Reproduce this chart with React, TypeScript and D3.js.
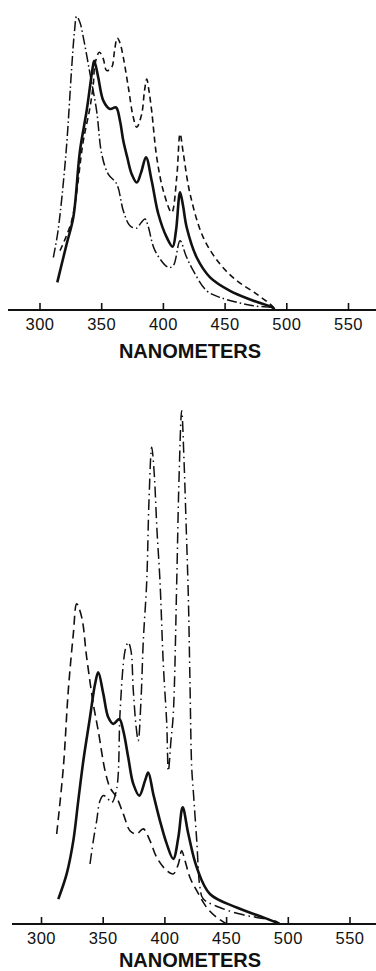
import { useEffect, useRef } from "react";
import * as d3 from "d3";

// wavelengths (nm) and relative intensity
const tickValues = [300, 350, 400, 450, 500, 550];

// upper panel
const topSolidNm = [314, 321.6, 327, 332.4, 337.8, 343.2, 344, 347.2, 351.3, 356.7, 361.6, 364.8, 367.5, 370.7, 374.3, 378.4, 381.9, 385.9, 390.5, 395.9, 402.7, 407.5, 410.2, 413.5, 415.9, 418.9, 427, 437.8, 454, 472.9, 489, 490];
const topSolidVal = [9.2, 22, 30.9, 53.1, 66.4, 82, 83.1, 77.5, 69.8, 67, 67.5, 63.1, 56.4, 50.9, 45.3, 42.5, 45.8, 50.9, 43.1, 32, 24.2, 21.1, 26.4, 39.2, 34.8, 27.5, 17.5, 10.9, 6.4, 3.1, 0.7, 0];

const topDashNm = [316.2, 325.7, 335.1, 340.5, 343.2, 344.6, 348.1, 351.3, 354, 358.1, 360.4, 362.6, 364.8, 367.5, 371.6, 375.6, 378.4, 382.4, 384.7, 386.5, 388.3, 390.5, 394.6, 399.9, 406.7, 410.8, 413.5, 416.2, 421.6, 432.3, 445.9, 459.4, 475.6, 489.1, 490];
const topDashVal = [19.8, 29.8, 56.4, 67.5, 75.3, 82.1, 85.9, 83.7, 79.8, 80.9, 86.4, 90.7, 89.1, 84.2, 74.2, 64.2, 60.9, 65.3, 73.1, 77, 73.1, 66.4, 50.9, 39.8, 32.5, 44.2, 58.7, 52, 38.7, 24.2, 15.3, 9.8, 5.3, 0.9, 0];

const topDashDotNm = [310.8, 314.6, 321, 325.7, 328, 329.7, 332.4, 335.1, 340.5, 345.9, 350, 355.3, 362.2, 367.5, 372.9, 378.4, 381.9, 385.1, 387.5, 393.2, 404, 408, 413.5, 418.3, 424.2, 435.1, 445.9, 472.9, 489, 490];
const topDashDotVal = [17.5, 26.4, 52, 80.9, 93.1, 97.9, 95.8, 90.9, 78.8, 66.4, 52, 45.3, 42, 33.1, 28.1, 27.3, 29.1, 30.3, 28.1, 19.8, 14.2, 14.8, 23.1, 18.1, 13.1, 6.4, 4.2, 1.4, 0.7, 0];

// lower panel
const botSolidNm = [313.6, 320.4, 325.8, 329.8, 333.9, 339.3, 343.4, 346, 350.1, 354.1, 358.2, 363, 366.3, 370.3, 374.4, 379.3, 383.9, 386.5, 390.6, 396, 401.5, 406.8, 410.9, 414.4, 419, 425.8, 436.5, 458.2, 479.7, 493];
const botSolidVal = [8.3, 16.7, 27.8, 41.1, 54.4, 68.9, 80, 83.9, 76.7, 68.9, 66.7, 68.3, 64.4, 55.5, 46.7, 42.8, 47.8, 50.5, 43.3, 34.4, 26.7, 21.7, 28.9, 38.9, 30, 18.9, 10, 5.5, 2.2, 0];

const botDashNm = [312.3, 317.7, 321.7, 325.8, 328.5, 332.6, 336.6, 342, 346, 351.5, 355.5, 360.9, 366.3, 371.7, 377.1, 382.5, 387.9, 393.4, 401.5, 406.8, 410.9, 413.6, 416.3, 420.3, 425.8, 433.9, 442, 450];
const botDashVal = [30, 52.2, 77.8, 96.7, 106.7, 102.2, 88.9, 73.3, 64.4, 51.1, 45.5, 42.2, 36.7, 31.1, 30, 31.7, 27.8, 22.2, 17.8, 16.7, 20, 24.4, 21.1, 15.5, 11.1, 5.5, 2.2, 0];

const botDashDotNm = [339.3, 342, 344.7, 347.4, 350.2, 353.1, 356.9, 360.9, 363.6, 366.3, 368.1, 370.3, 372.5, 374.4, 376.6, 378.4, 380.6, 382.5, 385.3, 387.1, 389.3, 391.2, 393.6, 396, 398.7, 401.5, 402.8, 404.9, 406.8, 409.6, 411.4, 413.6, 415.5, 417.1, 419, 420.3, 421.7, 423, 425.8, 428.4, 431, 444.6, 460.9, 474.4, 490.6, 493];
const botDashDotVal = [20, 27.8, 34.4, 41.1, 42.8, 42.1, 40.5, 45, 70, 86.7, 91.8, 93.9, 91.1, 77.8, 66.1, 61.1, 74.4, 94.4, 114.4, 141.1, 158.9, 151.1, 131.1, 114.4, 86.7, 66.7, 51, 61.1, 70, 114.4, 147.8, 171.1, 154.4, 134.4, 108.9, 81.1, 52.4, 44.4, 27.8, 12.2, 8.4, 5.5, 3.3, 2.2, 0.8, 0];

const W = 376;
const H = 971;

export default function App() {
  const ref = useRef<SVGSVGElement | null>(null);

  useEffect(() => {
    const svg = d3.select(ref.current);
    svg.selectAll("*").remove();

    const panels = [
      {
        x0: 40, x1: 348.5, base: 310, axisStart: 8, labelY: 330, titleY: 358,
        series: [
          { nm: topDashDotNm, val: topDashDotVal, dash: "10,3,1.5,3", w: 1.5 },
          { nm: topDashNm, val: topDashVal, dash: "6,4", w: 1.6 },
          { nm: topSolidNm, val: topSolidVal, dash: null, w: 2.6 },
        ],
      },
      {
        x0: 41.5, x1: 350, base: 924, axisStart: 12, labelY: 944, titleY: 967,
        series: [
          { nm: botDashDotNm, val: botDashDotVal, dash: "11,4,1.5,4", w: 1.5 },
          { nm: botDashNm, val: botDashVal, dash: "9,5", w: 1.6 },
          { nm: botSolidNm, val: botSolidVal, dash: null, w: 2.6 },
        ],
      },
    ];

    panels.forEach(p => {
      const x = d3.scaleLinear().domain([300, 550]).range([p.x0, p.x1]);
      const y = d3.scaleLinear().domain([0, 100]).range([p.base, p.base - 300]);
      const g = svg.append("g");

      // baseline + ticks pointing up
      g.append("line")
        .attr("x1", p.axisStart).attr("x2", W)
        .attr("y1", p.base).attr("y2", p.base)
        .attr("stroke", "#111").attr("stroke-width", 1.8);

      g.selectAll("line.tick")
        .data(tickValues)
        .enter()
        .append("line")
        .attr("class", "tick")
        .attr("x1", d => x(d)).attr("x2", d => x(d))
        .attr("y1", p.base).attr("y2", p.base - 7)
        .attr("stroke", "#111").attr("stroke-width", 1.6);

      g.selectAll("text.tl")
        .data(tickValues)
        .enter()
        .append("text")
        .attr("class", "tl")
        .attr("x", d => x(d))
        .attr("y", p.labelY)
        .attr("text-anchor", "middle")
        .style("font-family", "'Liberation Sans', Arial, sans-serif")
        .style("font-size", "16.5px")
        .style("letter-spacing", "0.5px")
        .style("fill", "#111")
        .text(d => d);

      g.append("text")
        .attr("x", 190)
        .attr("y", p.titleY)
        .attr("text-anchor", "middle")
        .style("font-family", "'Liberation Sans', Arial, sans-serif")
        .style("font-size", "20px")
        .style("font-weight", 700)
        .style("fill", "#111")
        .text("NANOMETERS");

      p.series.forEach(s => {
        const pts = s.nm.map((n, i) => [n, s.val[i]] as [number, number]);
        const path = d3.line<[number, number]>()
          .x(d => x(d[0]))
          .y(d => y(d[1]))
          .curve(d3.curveCatmullRom.alpha(0.5));
        g.append("path")
          .attr("d", path(pts) || "")
          .attr("fill", "none")
          .attr("stroke", "#111")
          .attr("stroke-width", s.w)
          .attr("stroke-linejoin", "round")
          .attr("stroke-dasharray", s.dash)
      });
    });
  }, []);

  return (
    <div style={{ position: "absolute", left: 0, top: 0 }}>
      <svg ref={ref} width={W} height={H} style={{ display: "block", background: "#fff" }} />
    </div>
  );
}
